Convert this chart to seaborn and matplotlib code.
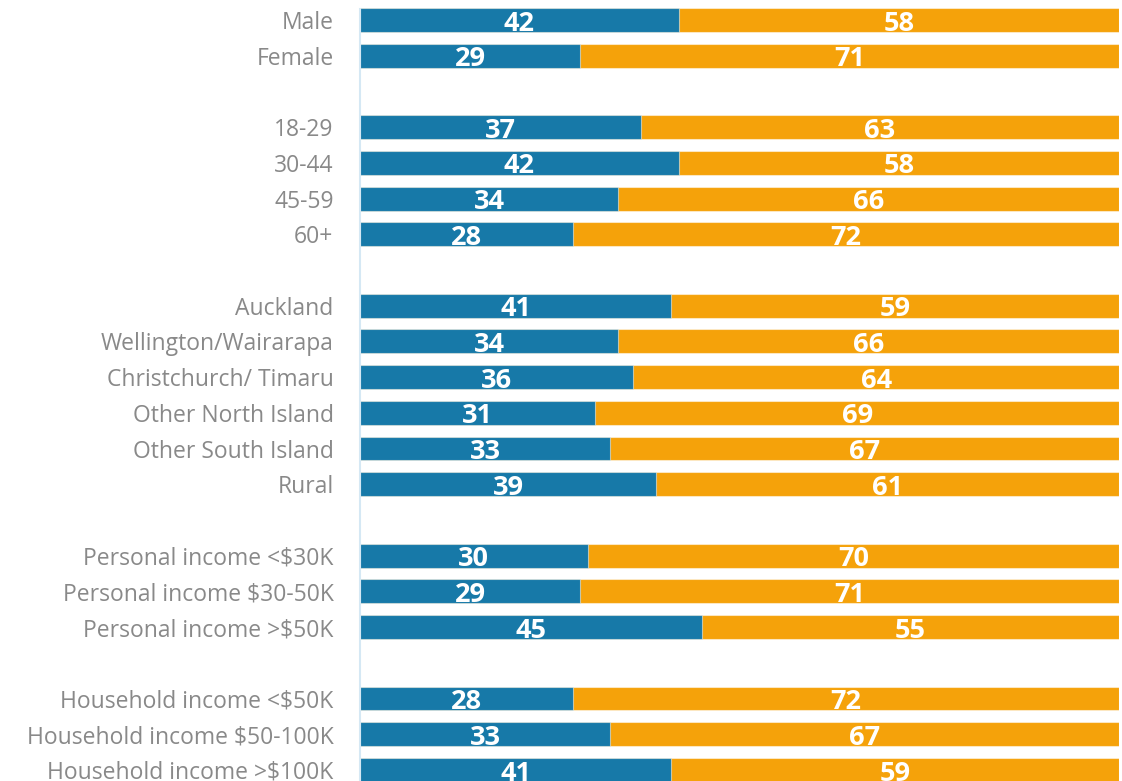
import matplotlib
matplotlib.use("Agg")
import matplotlib.pyplot as plt
import seaborn as sns
import pandas as pd

categories = ["Male", "Female", None,
              "18-29", "30-44", "45-59", "60+", None,
              "Auckland", "Wellington/Wairarapa", "Christchurch/ Timaru",
              "Other North Island", "Other South Island", "Rural", None,
              "Personal income <$30K", "Personal income $30-50K", "Personal income >$50K", None,
              "Household income <$50K", "Household income $50-100K", "Household income >$100K"]
blue_vals = [42, 29, None, 37, 42, 34, 28, None, 41, 34, 36, 31, 33, 39, None,
             30, 29, 45, None, 28, 33, 41]
orange_vals = [58, 71, None, 63, 58, 66, 72, None, 59, 66, 64, 69, 67, 61, None,
               70, 71, 55, None, 72, 67, 59]

BLUE = "#1779A8"
ORANGE = "#F5A20A"
GREY = "#898989"

sns.set_theme(style="white")
plt.rcParams["font.family"] = ["Open Sans", "DejaVu Sans"]

rows = [(i, c, b, o) for i, (c, b, o) in enumerate(zip(categories, blue_vals, orange_vals)) if c is not None]
df = pd.DataFrame(rows, columns=["pos", "label", "blue", "orange"])
df["total"] = df["blue"] + df["orange"]

fig = plt.figure(figsize=(11.22, 7.81), dpi=100)
ax = fig.add_axes([360 / 1122, 0, (1119 - 360) / 1122, 1])

sns.barplot(data=df, x="total", y="pos", orient="h", native_scale=True,
            color=ORANGE, saturation=1, width=0.67, edgecolor=(1, 1, 1, 0.5),
            linewidth=0.8, ax=ax, errorbar=None)
sns.barplot(data=df, x="blue", y="pos", orient="h", native_scale=True,
            color=BLUE, saturation=1, width=0.67, edgecolor=(1, 1, 1, 0.5),
            linewidth=0.8, ax=ax, errorbar=None)

for _, r in df.iterrows():
    ax.text(r["blue"] / 2, r["pos"] + 0.1, f"{int(r['blue'])}", color="white",
            fontsize=19.5, fontweight="bold", ha="center", va="center")
    ax.text(r["blue"] + r["orange"] / 2, r["pos"] + 0.1, f"{int(r['orange'])}",
            color="white", fontsize=19.5, fontweight="bold", ha="center", va="center")

ax.set_xlim(0, 100)
ax.set_ylim(21.31, -0.56)
ax.set_yticks(df["pos"].tolist())
ax.set_yticklabels(df["label"].tolist(), color=GREY, fontsize=16.5)
ax.tick_params(axis="y", length=0, pad=19)
ax.set_xticks([])
ax.set_xlabel("")
ax.set_ylabel("")
for s in ["top", "right", "bottom"]:
    ax.spines[s].set_visible(False)
ax.spines["left"].set_color("#D5E8F4")
ax.spines["left"].set_linewidth(1.5)
ax.spines["left"].set_bounds(21.31, -0.3)

fig.savefig("out.png", dpi=100)
